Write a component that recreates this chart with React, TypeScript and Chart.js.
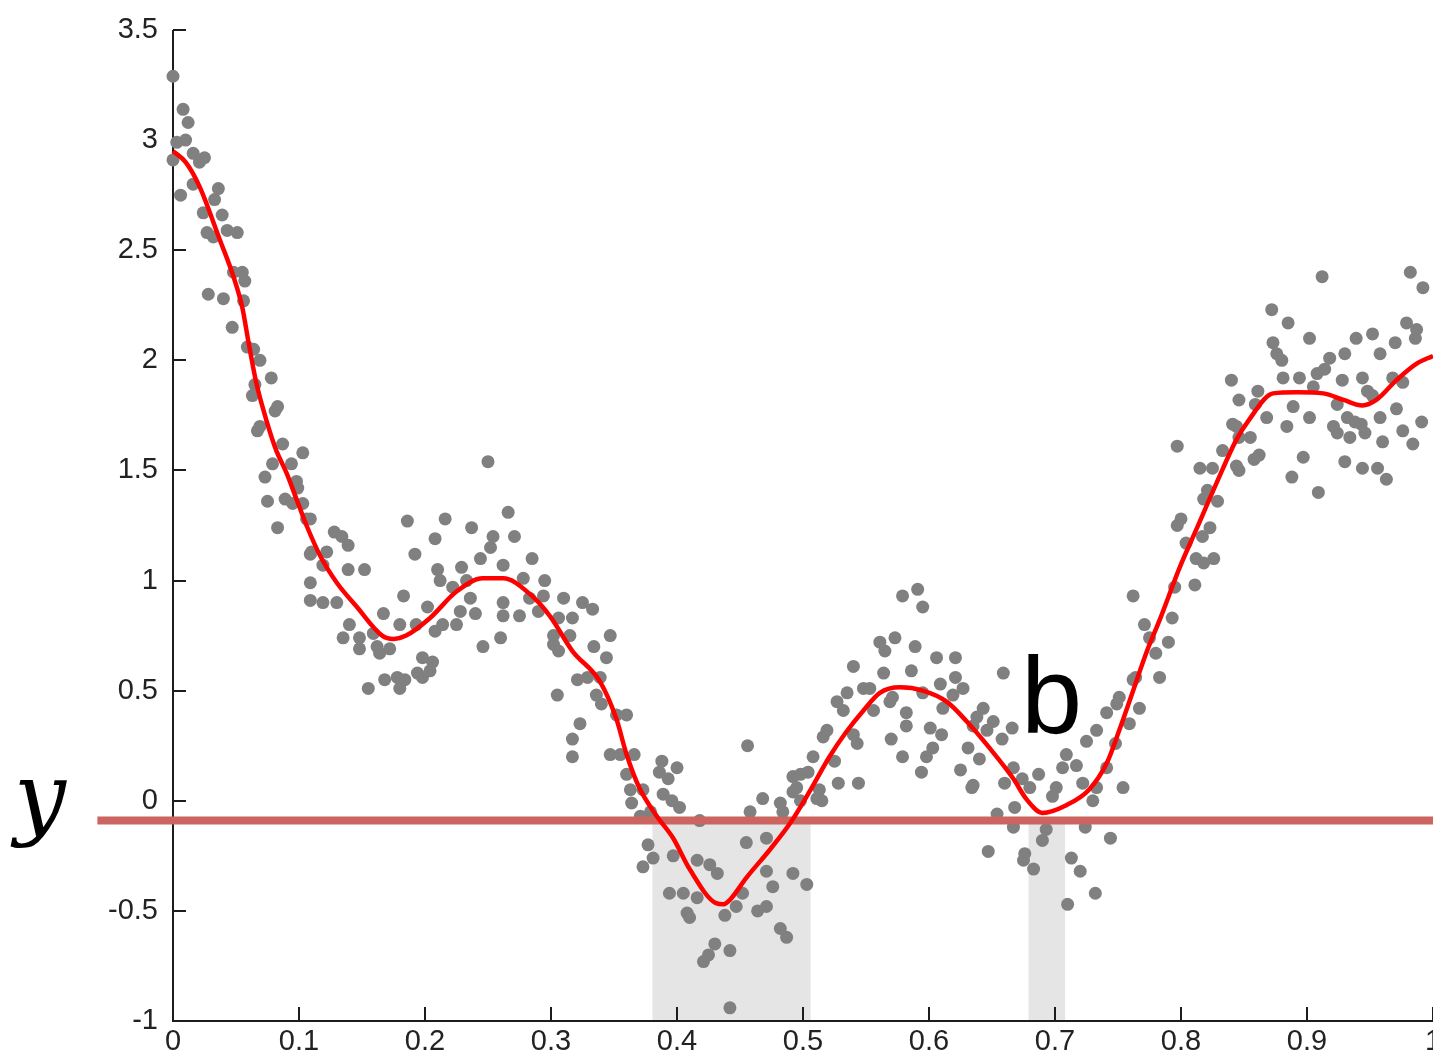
import { useEffect, useRef } from "react";
import { Chart, registerables } from "chart.js";

Chart.register(...registerables);

// Axis ticks
const xTickValues = [0, 0.1, 0.2, 0.3, 0.4, 0.5, 0.6, 0.7, 0.8, 0.9, 1];
const xTickLabels = ["0", "0.1", "0.2", "0.3", "0.4", "0.5", "0.6", "0.7", "0.8", "0.9", "1"];
const yTickValues = [-1, -0.5, 0, 0.5, 1, 1.5, 2, 2.5, 3, 3.5];
const yTickLabels = ["-1", "-0.5", "0", "0.5", "1", "1.5", "2", "2.5", "3", "3.5"];

// Threshold level and the x-intervals where the fit dips below it
const threshold = -0.09;
const thresholdSpan = [-0.06, 1];
const thresholdLabel = "y";
const belowIntervals: [number, number][] = [
  [0.3805, 0.506],
  [0.679, 0.708],
];

// Annotation near the second dip
const dipLabel = { text: "b", x: 0.673, y: 0.31 };

// Smoothed fit
const fitX = [
  0, 0.01, 0.021, 0.037, 0.048, 0.055, 0.06, 0.066, 0.074, 0.082, 0.09, 0.098, 0.106, 0.117,
  0.13, 0.146, 0.166, 0.175, 0.185, 0.204, 0.225, 0.246, 0.262, 0.283, 0.299, 0.317, 0.339,
  0.352, 0.36, 0.37, 0.384, 0.397, 0.41, 0.431, 0.437, 0.442, 0.455, 0.474, 0.49, 0.505,
  0.521, 0.534, 0.548, 0.561, 0.577, 0.595, 0.614, 0.63, 0.648, 0.667, 0.677, 0.69, 0.709,
  0.727, 0.741, 0.751, 0.762, 0.773, 0.783, 0.799, 0.812, 0.828, 0.844, 0.854, 0.873, 0.892,
  0.913, 0.929, 0.944, 0.955, 0.971, 0.987, 1.0,
];
const fitY = [
  2.95, 2.9, 2.79, 2.55, 2.38, 2.24, 2.08, 1.9, 1.73, 1.59, 1.49, 1.37, 1.25, 1.11,
  0.99, 0.88, 0.75, 0.735, 0.75, 0.83, 0.95, 1.01, 1.01, 0.94, 0.84, 0.68, 0.54,
  0.37, 0.21, 0.06, -0.07, -0.17, -0.31, -0.465, -0.47, -0.45, -0.35, -0.22, -0.1, 0.04,
  0.2, 0.31, 0.41, 0.49, 0.515, 0.5, 0.45, 0.36, 0.24, 0.1, 0.01, -0.055, -0.02,
  0.05, 0.17, 0.32, 0.5, 0.68, 0.82, 1.06, 1.23, 1.44, 1.64, 1.73, 1.85, 1.855,
  1.85, 1.82, 1.795, 1.82, 1.91, 1.985, 2.02,
];

// Observed samples [x, y]
const samples: [number, number][] = [
  [0.0, 3.29], [0.008, 3.14], [0.012, 3.08], [0.01, 3.0], [0.003, 2.99], [0.0, 2.91], [0.016, 2.94],
  [0.025, 2.92], [0.021, 2.9], [0.016, 2.8], [0.006, 2.75], [0.036, 2.78], [0.033, 2.73], [0.024, 2.67],
  [0.039, 2.66], [0.027, 2.58], [0.043, 2.59], [0.051, 2.58], [0.032, 2.56], [0.048, 2.4], [0.055, 2.4],
  [0.057, 2.36], [0.028, 2.3], [0.04, 2.28], [0.056, 2.27],
  [0.047, 2.15], [0.059, 2.06], [0.069, 2.0], [0.064, 2.05], [0.078, 1.92], [0.065, 1.89], [0.063, 1.84],
  [0.083, 1.79], [0.081, 1.77], [0.069, 1.7], [0.067, 1.68], [0.087, 1.62], [0.103, 1.58], [0.079, 1.53],
  [0.094, 1.53], [0.073, 1.47], [0.098, 1.45], [0.099, 1.42], [0.075, 1.36], [0.089, 1.37], [0.095, 1.35],
  [0.103, 1.35], [0.106, 1.28], [0.083, 1.24], [0.128, 1.22], [0.134, 1.2], [0.139, 1.16], [0.11, 1.13],
  [0.122, 1.13],
  [0.25, 1.54], [0.109, 1.28], [0.186, 1.27], [0.216, 1.28], [0.266, 1.31], [0.237, 1.24], [0.208, 1.19],
  [0.254, 1.2], [0.271, 1.2], [0.192, 1.12], [0.252, 1.15], [0.109, 1.12], [0.119, 1.07], [0.285, 1.1],
  [0.244, 1.1], [0.139, 1.05], [0.152, 1.05], [0.21, 1.05], [0.229, 1.06], [0.262, 1.07], [0.109, 0.99],
  [0.278, 1.01], [0.295, 1.0], [0.212, 1.0], [0.222, 0.97], [0.233, 1.0], [0.109, 0.91], [0.119, 0.9],
  [0.13, 0.9], [0.183, 0.93], [0.236, 0.92], [0.262, 0.9], [0.283, 0.92], [0.294, 0.93], [0.31, 0.92],
  [0.202, 0.88], [0.228, 0.86], [0.24, 0.85], [0.262, 0.84], [0.275, 0.84], [0.167, 0.85], [0.29, 0.86],
  [0.306, 0.83], [0.214, 0.8], [0.225, 0.8], [0.14, 0.8], [0.18, 0.8], [0.193, 0.8], [0.135, 0.74],
  [0.148, 0.74], [0.159, 0.76], [0.208, 0.77], [0.26, 0.74], [0.246, 0.7], [0.302, 0.75], [0.148, 0.69],
  [0.162, 0.7], [0.172, 0.69], [0.164, 0.67], [0.306, 0.68], [0.198, 0.65], [0.206, 0.63], [0.204, 0.59],
  [0.194, 0.58], [0.168, 0.55], [0.178, 0.56], [0.184, 0.55], [0.198, 0.56], [0.18, 0.51], [0.155, 0.51],
  [0.305, 0.48],
  [0.325, 0.9], [0.333, 0.87], [0.317, 0.83], [0.315, 0.75], [0.347, 0.75], [0.302, 0.71], [0.334, 0.7],
  [0.344, 0.65], [0.321, 0.55], [0.329, 0.56], [0.339, 0.56], [0.336, 0.48], [0.34, 0.44], [0.352, 0.39],
  [0.36, 0.39], [0.323, 0.35], [0.317, 0.28], [0.317, 0.2], [0.347, 0.21], [0.355, 0.21], [0.366, 0.21],
  [0.388, 0.18], [0.4, 0.15], [0.386, 0.13], [0.393, 0.1], [0.36, 0.12], [0.363, 0.05], [0.373, 0.05],
  [0.364, -0.01], [0.389, 0.03], [0.396, 0.0], [0.402, -0.03], [0.371, -0.07], [0.379, -0.05], [0.418, -0.09],
  [0.377, -0.2], [0.381, -0.26], [0.373, -0.3], [0.416, -0.27], [0.426, -0.29], [0.397, -0.25],
  [0.456, 0.25], [0.508, 0.2], [0.498, 0.12], [0.492, 0.11], [0.468, 0.01], [0.482, -0.01], [0.492, 0.04],
  [0.511, 0.01], [0.458, -0.05], [0.484, -0.05], [0.455, -0.19], [0.471, -0.17], [0.432, -0.33], [0.471, -0.32],
  [0.492, -0.33], [0.503, -0.38], [0.394, -0.42], [0.405, -0.42], [0.416, -0.44], [0.476, -0.39], [0.452, -0.42],
  [0.447, -0.48], [0.408, -0.51], [0.41, -0.53], [0.438, -0.52], [0.464, -0.5], [0.471, -0.48], [0.482, -0.58],
  [0.487, -0.62], [0.43, -0.65], [0.442, -0.68], [0.425, -0.7], [0.421, -0.73], [0.442, -0.94], [0.516, 0.29],
  [0.579, 0.93], [0.591, 0.96], [0.595, 0.88], [0.561, 0.72], [0.573, 0.74], [0.565, 0.68], [0.589, 0.7],
  [0.54, 0.61], [0.564, 0.58], [0.586, 0.59], [0.606, 0.65], [0.621, 0.65], [0.659, 0.58], [0.609, 0.53],
  [0.621, 0.56], [0.627, 0.51], [0.527, 0.45], [0.535, 0.49], [0.548, 0.51], [0.553, 0.51], [0.571, 0.47],
  [0.532, 0.41], [0.556, 0.41], [0.569, 0.45], [0.595, 0.49], [0.611, 0.42], [0.619, 0.48], [0.582, 0.4],
  [0.582, 0.34], [0.643, 0.42], [0.638, 0.38], [0.651, 0.36], [0.666, 0.33], [0.519, 0.32], [0.54, 0.3],
  [0.57, 0.28], [0.601, 0.33], [0.61, 0.3], [0.646, 0.32], [0.658, 0.28], [0.543, 0.26], [0.603, 0.24],
  [0.631, 0.24], [0.579, 0.2], [0.598, 0.2], [0.64, 0.19], [0.504, 0.13], [0.525, 0.18], [0.594, 0.13],
  [0.625, 0.14], [0.528, 0.08], [0.544, 0.08], [0.634, 0.06], [0.66, 0.08], [0.495, 0.06], [0.515, 0.0],
  [0.498, 0.0], [0.654, -0.06], [0.668, -0.03], [0.647, -0.23], [0.513, 0.05],
  [0.635, 0.34], [0.635, 0.07], [0.667, 0.15], [0.674, 0.1], [0.687, 0.12], [0.68, 0.06], [0.701, 0.06],
  [0.709, 0.21], [0.706, 0.15], [0.717, 0.16], [0.725, 0.27], [0.733, 0.32], [0.741, 0.4], [0.749, 0.44],
  [0.767, 0.42], [0.759, 0.35], [0.762, 0.55], [0.698, 0.02], [0.722, 0.08], [0.733, 0.06], [0.741, 0.15],
  [0.754, 0.06], [0.73, 0.0], [0.667, -0.12], [0.693, -0.13], [0.69, -0.18], [0.724, -0.12], [0.744, -0.17],
  [0.676, -0.24], [0.683, -0.31], [0.675, -0.27], [0.713, -0.26], [0.72, -0.32], [0.732, -0.42], [0.71, -0.47],
  [0.797, 1.61], [0.833, 1.59], [0.846, 1.65], [0.815, 1.51], [0.825, 1.51], [0.846, 1.5], [0.862, 1.57],
  [0.858, 1.55], [0.821, 1.41], [0.818, 1.37], [0.829, 1.36], [0.8, 1.28], [0.797, 1.25], [0.823, 1.24],
  [0.817, 1.2], [0.804, 1.17], [0.812, 1.1], [0.826, 1.1], [0.818, 1.08], [0.795, 0.97], [0.811, 0.98],
  [0.762, 0.93], [0.793, 0.83], [0.771, 0.8], [0.775, 0.74], [0.79, 0.72], [0.78, 0.67], [0.764, 0.56],
  [0.783, 0.56], [0.751, 0.47], [0.748, 0.26], [0.841, 1.71],
  [0.912, 2.38], [0.982, 2.4], [0.992, 2.33], [0.872, 2.23], [0.885, 2.17], [0.979, 2.17], [0.987, 2.14],
  [0.986, 2.1], [0.902, 2.1], [0.939, 2.1], [0.952, 2.12], [0.97, 2.08], [0.873, 2.08], [0.876, 2.03],
  [0.88, 2.0], [0.918, 2.01], [0.93, 2.03], [0.958, 2.03], [0.84, 1.91], [0.881, 1.92], [0.894, 1.92],
  [0.908, 1.94], [0.914, 1.96], [0.928, 1.91], [0.944, 1.92], [0.968, 1.92], [0.861, 1.86], [0.846, 1.82],
  [0.905, 1.88], [0.948, 1.86], [0.952, 1.84], [0.976, 1.9], [0.859, 1.8], [0.889, 1.79], [0.924, 1.8],
  [0.868, 1.74], [0.902, 1.74], [0.932, 1.74], [0.938, 1.72], [0.943, 1.71], [0.958, 1.74], [0.971, 1.78],
  [0.991, 1.72], [0.844, 1.7], [0.884, 1.7], [0.921, 1.7], [0.855, 1.65], [0.924, 1.67], [0.934, 1.65],
  [0.946, 1.67], [0.976, 1.68], [0.96, 1.63], [0.984, 1.62], [0.897, 1.56], [0.844, 1.52], [0.93, 1.54],
  [0.944, 1.51], [0.956, 1.51], [0.963, 1.46], [0.888, 1.47], [0.909, 1.4],
];

const AXIS_COLOR = "#1c1c1c";
const TICK_FONT = { family: '"Liberation Sans", Arial, sans-serif', size: 29 };

const decorPlugin = {
  id: "decor",
  beforeDatasetsDraw(chart: any) {
    const { ctx, chartArea, scales } = chart;
    const xs = scales.x;
    const ys = scales.y;
    const yThr = ys.getPixelForValue(threshold);
    ctx.save();
    // grey bands where the fit lies below the threshold
    ctx.fillStyle = "#e5e5e5";
    for (const [a, b] of belowIntervals) {
      const x0 = xs.getPixelForValue(a);
      const x1 = xs.getPixelForValue(b);
      ctx.fillRect(x0, yThr, x1 - x0, chartArea.bottom - yThr);
    }
    // axis lines
    ctx.strokeStyle = AXIS_COLOR;
    ctx.lineWidth = 2;
    ctx.beginPath();
    ctx.moveTo(chartArea.left, chartArea.top);
    ctx.lineTo(chartArea.left, chartArea.bottom);
    ctx.lineTo(chartArea.right, chartArea.bottom);
    ctx.stroke();
    // inward tick marks
    ctx.beginPath();
    for (const v of yTickValues) {
      const py = Math.round(ys.getPixelForValue(v));
      ctx.moveTo(chartArea.left, py);
      ctx.lineTo(chartArea.left + 13, py);
    }
    for (const v of xTickValues) {
      const px = Math.round(xs.getPixelForValue(v));
      ctx.moveTo(px, chartArea.bottom);
      ctx.lineTo(px, chartArea.bottom - 14);
    }
    ctx.stroke();
    ctx.restore();
  },
  afterDatasetsDraw(chart: any) {
    const { ctx, scales } = chart;
    const xs = scales.x;
    const ys = scales.y;
    ctx.save();
    ctx.fillStyle = "#000";
    ctx.textAlign = "left";
    ctx.textBaseline = "alphabetic";
    ctx.font = '110px "Liberation Sans", Arial, sans-serif';
    ctx.fillText(dipLabel.text, xs.getPixelForValue(dipLabel.x), ys.getPixelForValue(dipLabel.y));
    ctx.font = 'italic 92px "DejaVu Serif", "Liberation Serif", serif';
    ctx.textAlign = "center";
    ctx.fillText(thresholdLabel, 40, ys.getPixelForValue(threshold) + 7);
    ctx.restore();
  },
};

export default function App() {
  const canvasRef = useRef<HTMLCanvasElement | null>(null);

  useEffect(() => {
    const canvas = canvasRef.current;
    if (!canvas) return;

    const chart = new Chart(canvas, {
      type: "scatter",
      data: {
        datasets: [
          {
            label: "fit",
            data: fitX.map((x, i) => ({ x, y: fitY[i] })),
            showLine: true,
            borderColor: "#ff0000",
            borderWidth: 4.5,
            pointRadius: 0,
            pointHoverRadius: 0,
            cubicInterpolationMode: "monotone",
            clip: false,
            order: 0,
          } as any,
          {
            label: "threshold",
            data: thresholdSpan.map((x) => ({ x, y: threshold })),
            showLine: true,
            borderColor: "#cc645f",
            borderWidth: 8,
            pointRadius: 0,
            pointHoverRadius: 0,
            clip: false,
            order: 1,
          } as any,
          {
            label: "samples",
            data: samples.map(([x, y]) => ({ x, y })),
            backgroundColor: "#808080",
            borderWidth: 0,
            pointRadius: 6.5,
            pointHoverRadius: 6.5,
            clip: false,
            order: 2,
          } as any,
        ],
      },
      options: {
        animation: false,
        responsive: false,
        devicePixelRatio: 1,
        layout: { autoPadding: false, padding: { top: 30, right: 0, left: 0, bottom: 0 } },
        plugins: { legend: { display: false }, tooltip: { enabled: false } },
        events: [],
        scales: {
          x: {
            type: "linear",
            min: 0,
            max: 1,
            grid: { display: false, drawTicks: false },
            border: { display: false },
            afterBuildTicks: (scale: any) => {
              scale.ticks = xTickValues.map((value) => ({ value }));
            },
            afterFit: (scale: any) => {
              scale.height = 33;
              scale.paddingLeft = 0;
              scale.paddingRight = 0;
            },
            ticks: {
              maxRotation: 0,
              autoSkip: false,
              padding: 4,
              color: "#222",
              font: TICK_FONT,
              callback: (_v: any, i: number) => xTickLabels[i],
            },
          },
          y: {
            type: "linear",
            min: -1,
            max: 3.5,
            grid: { display: false, drawTicks: false },
            border: { display: false },
            afterBuildTicks: (scale: any) => {
              scale.ticks = yTickValues.map((value) => ({ value }));
            },
            afterFit: (scale: any) => {
              scale.width = 173;
              scale.paddingTop = 0;
              scale.paddingBottom = 0;
            },
            ticks: {
              autoSkip: false,
              padding: 15,
              color: "#222",
              font: TICK_FONT,
              callback: (_v: any, i: number) => yTickLabels[i],
            },
          },
        },
      },
      plugins: [decorPlugin],
    });

    return () => chart.destroy();
  }, []);

  return (
    <div style={{ position: "fixed", left: 0, top: 0, width: 1433, height: 1054, background: "#fff" }}>
      <canvas ref={canvasRef} width={1433} height={1054} style={{ display: "block", width: 1433, height: 1054 }} />
    </div>
  );
}
